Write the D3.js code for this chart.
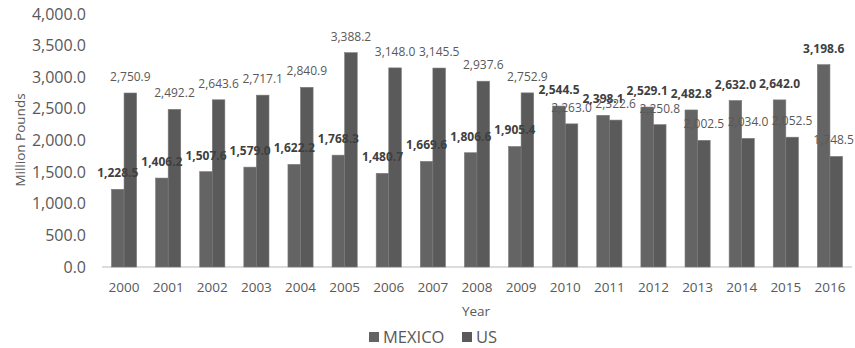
<!DOCTYPE html>
<html><head><meta charset="utf-8">
<script src="https://cdn.jsdelivr.net/npm/d3@7"></script>
<style>body{margin:0;background:#fff;} text{font-family:"Open Sans",sans-serif;}</style>
</head><body>
<svg id="chart" width="855" height="348"></svg>
<script>
const years = ["2000","2001","2002","2003","2004","2005","2006","2007","2008","2009","2010","2011","2012","2013","2014","2015","2016"];
const mexico = [1228.5,1406.2,1507.6,1579.0,1622.2,1768.3,1480.7,1669.6,1806.6,1905.4,2544.5,2398.1,2529.1,2482.8,2632.0,2642.0,3198.6];
const us = [2750.9,2492.2,2643.6,2717.1,2840.9,3388.2,3148.0,3145.5,2937.6,2752.9,2263.0,2322.6,2250.8,2002.5,2034.0,2052.5,1748.5];
const seriesNames = ["MEXICO","US"];
const yTicks = [0,500,1000,1500,2000,2500,3000,3500,4000];

const svg = d3.select("#chart");
const m = {left:102, right:3, top:14, bottom:81};
const W = 855, H = 348;
const x = d3.scaleBand().domain(years).range([m.left, W - m.right]).paddingInner(0.43).paddingOuter(0.215);
const xs = d3.scaleBand().domain(seriesNames).range([0, x.bandwidth()]);
const y = d3.scaleLinear().domain([0,4000]).range([H - m.bottom, m.top]);
const fmt = d3.format(",.1f");
const colors = {MEXICO:"#646464", US:"#5a5a5a"};

// y axis labels
svg.append("g").selectAll("text").data(yTicks).join("text")
  .attr("x", 86).attr("y", d => y(d)).attr("dy","0.35em")
  .attr("text-anchor","end").attr("font-size",16).attr("fill","#595959")
  .text(d => fmt(d));

// baseline
svg.append("line").attr("x1", m.left).attr("x2", W - m.right)
  .attr("y1", y(0)).attr("y2", y(0)).attr("stroke","#d0d0d0").attr("stroke-width",1.3);

const data = years.map((yr,i) => ({year:yr, vals:[{s:"MEXICO",v:mexico[i]},{s:"US",v:us[i]}]}));
const g = svg.append("g").selectAll("g").data(data).join("g")
  .attr("transform", d => `translate(${x(d.year)},0)`);
g.selectAll("rect").data(d => d.vals).join("rect")
  .attr("x", d => xs(d.s)).attr("width", xs.bandwidth())
  .attr("y", d => y(d.v)).attr("height", d => y(0) - y(d.v))
  .attr("fill", d => colors[d.s]).attr("stroke","#7a7a7a").attr("stroke-width",0.6);

// labels US first then MEXICO on top
["US","MEXICO"].forEach(s => {
  g.append("text")
    .attr("x", d => xs(s) + xs.bandwidth()/2)
    .attr("y", d => y(d.vals.find(v=>v.s===s).v) - 12)
    .attr("text-anchor","middle").attr("font-size",12)
    .attr("font-weight", s==="MEXICO" ? "bold" : "normal")
    .attr("fill", s==="MEXICO" ? "#404040" : "#595959")
    .text(d => fmt(d.vals.find(v=>v.s===s).v))
    .each(function(d){
      const bb = this.getBBox();
      const gx = x(d.year);
      const over = gx + bb.x + bb.width - (W - 1);
      if (over > 0) d3.select(this).attr("x", +d3.select(this).attr("x") - over);
    });
});

// x labels
svg.append("g").selectAll("text").data(years).join("text")
  .attr("x", d => x(d) + x.bandwidth()/2).attr("y", 287).attr("dy","0.35em")
  .attr("text-anchor","middle").attr("font-size",13.5).attr("fill","#595959").text(d=>d);

// axis titles
svg.append("text").attr("x", 476).attr("y", 311).attr("dy","0.35em").attr("text-anchor","middle")
  .attr("font-size",13.5).attr("fill","#595959").text("Year");
svg.append("text").attr("transform","translate(20,140) rotate(-90)").attr("dy","0.35em")
  .attr("text-anchor","middle").attr("font-size",13.5).attr("fill","#595959").text("Million Pounds");

// legend
const leg = svg.append("g");
const legItems = [{s:"MEXICO", x:369}, {s:"US", x:462}];
legItems.forEach(it => {
  leg.append("rect").attr("x", it.x).attr("y", 332).attr("width",10).attr("height",10).attr("fill", colors[it.s]);
  leg.append("text").attr("x", it.x + 14).attr("y", 337).attr("dy","0.35em")
    .attr("font-size",16.5).attr("fill","#595959").text(it.s);
});
</script>
</body></html>
